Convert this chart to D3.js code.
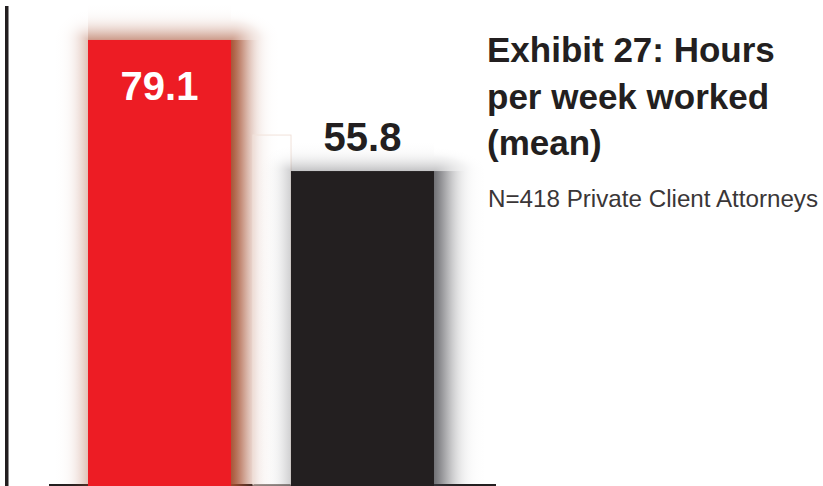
<!DOCTYPE html>
<html>
<head>
<meta charset="utf-8">
<script src="https://cdn.jsdelivr.net/npm/d3@7/dist/d3.min.js"></script>
<style>
  html, body { margin: 0; padding: 0; background: #ffffff; }
  svg { display: block; }
</style>
</head>
<body>
<div id="chart"></div>
<script>
// Mean hours per week worked
const categories = ["A", "B"];
const values = [79.1, 55.8];
const valueLabels = ["79.1", "55.8"];
const titleLines = ["Exhibit 27: Hours", "per week worked", "(mean)"];
const subtitle = "N=418 Private Client Attorneys";

const W = 823, H = 486;
const baseY = 485;

const svg = d3.select("#chart").append("svg")
  .attr("width", W).attr("height", H);
const defs = svg.append("defs");

const x = d3.scaleBand()
  .domain(categories)
  .range([58, 464])
  .paddingInner(60 / 203)
  .paddingOuter(30 / 203);

const y = d3.scaleLinear()
  .domain([0, 86.2])
  .range([baseY, 0]);

const fills = ["#ed1c24", "#231f20"];

// halo look per bar: colour, and for each side [width, peak opacity, edge offset, softness]
const haloStyle = [
  { color: "#a44d2e", right: [58, 0.95, 12, 12], left: [40, 0.34, 2, 11], top: [36, 0.55, 4, 11] },
  { color: "#3a3a40", right: [62, 0.72, 10, 14], left: [36, 0.24, 2, 11], top: [28, 0.3, 2, 10] }
];

// normal CDF (Abramowitz–Stegun erf approximation)
function phi(z) {
  const t = 1 / (1 + 0.3275911 * Math.abs(z) / Math.SQRT2);
  const e = 1 - (((((1.061405429 * t - 1.453152027) * t) + 1.421413741) * t - 0.284496736) * t + 0.254829592) * t * Math.exp(-z * z / 2);
  return z >= 0 ? 0.5 * (1 + e) : 0.5 * (1 - e);
}
// opacity profile along a halo band, t in [0,1] from the bar edge outwards
function profile(side, t) {
  const [wd, a0, e, s] = side;
  const d = t * wd;
  return a0 * (1 - phi((d - e) / s)) / (1 - phi(-e / s));
}

let gid = 0;
function linearGrad(color, side, dir) {
  const id = "hg" + (gid++);
  const g = defs.append("linearGradient").attr("id", id)
    .attr("x1", dir[0]).attr("y1", dir[1]).attr("x2", dir[2]).attr("y2", dir[3]);
  d3.range(0, 1.0001, 0.05).forEach(t => {
    g.append("stop").attr("offset", t).attr("stop-color", color).attr("stop-opacity", profile(side, t));
  });
  return "url(#" + id + ")";
}
function cornerGrad(color, sideA, sideB, cx, cy) {
  const id = "hg" + (gid++);
  const g = defs.append("radialGradient").attr("id", id)
    .attr("cx", cx).attr("cy", cy).attr("r", 1).attr("fx", cx).attr("fy", cy);
  d3.range(0, 1.0001, 0.05).forEach(t => {
    const a = Math.min(profile(sideA, t), profile(sideB, t));
    g.append("stop").attr("offset", t).attr("stop-color", color).attr("stop-opacity", a);
  });
  return "url(#" + id + ")";
}

function drawHalo(g, d) {
  const st = haloStyle[d.i];
  const x0 = x(d.c), x1 = x0 + x.bandwidth(), top = y(d.v);
  const R = st.right, L = st.left, T = st.top;
  // right band
  g.append("rect").attr("x", x1).attr("y", top).attr("width", R[0]).attr("height", H - top)
    .attr("fill", linearGrad(st.color, R, [0, 0, 1, 0]));
  // left band
  g.append("rect").attr("x", x0 - L[0]).attr("y", top).attr("width", L[0]).attr("height", H - top)
    .attr("fill", linearGrad(st.color, L, [1, 0, 0, 0]));
  // top band
  g.append("rect").attr("x", x0).attr("y", top - T[0]).attr("width", x1 - x0).attr("height", T[0])
    .attr("fill", linearGrad(st.color, T, [0, 1, 0, 0]));
  // corners
  g.append("rect").attr("x", x1).attr("y", top - T[0]).attr("width", R[0]).attr("height", T[0])
    .attr("fill", cornerGrad(st.color, R, T, 0, 1));
  g.append("rect").attr("x", x0 - L[0]).attr("y", top - T[0]).attr("width", L[0]).attr("height", T[0])
    .attr("fill", cornerGrad(st.color, L, T, 1, 1));
}

// left rule
svg.append("rect")
  .attr("x", 5).attr("y", 6).attr("width", 3.5).attr("height", H - 6)
  .attr("fill", "#231f20");

// baseline
svg.append("line")
  .attr("x1", 49).attr("x2", 496)
  .attr("y1", baseY).attr("y2", baseY)
  .attr("stroke", "#231f20").attr("stroke-width", 2);

const data = categories.map((c, i) => ({ c, v: values[i], label: valueLabels[i], i }));

function drawBar(g, d) {
  drawHalo(g, d);
  g.append("rect")
    .attr("x", x(d.c))
    .attr("y", y(d.v))
    .attr("width", x.bandwidth())
    .attr("height", y(0) - y(d.v) + 2)
    .attr("fill", fills[d.i]);
}

const bars = svg.append("g");
drawBar(bars, data[0]);

// faint panel between the bars, lifting part of the first bar's halo
const gapX0 = x(categories[0]) + x.bandwidth() + 22;
bars.append("rect")
  .attr("x", gapX0)
  .attr("y", y(values[1]) - 36)
  .attr("width", x(categories[1]) - gapX0)
  .attr("height", baseY - (y(values[1]) - 36))
  .attr("fill", "#ffffff")
  .attr("fill-opacity", 0.12)
  .attr("stroke", "#f1e2da")
  .attr("stroke-width", 1);

drawBar(bars, data[1]);

// value labels: inside the first bar, above the second
svg.append("g").selectAll("text")
  .data(data)
  .join("text")
  .attr("x", d => x(d.c) + x.bandwidth() / 2)
  .attr("y", d => d.i === 0 ? y(d.v) + 60 : y(d.v) - 20)
  .attr("text-anchor", "middle")
  .attr("font-family", "'Liberation Sans', Arial, Helvetica, sans-serif")
  .attr("font-weight", "bold")
  .attr("font-size", 40)
  .attr("fill", d => d.i === 0 ? "#ffffff" : "#231f20")
  .text(d => d.label);

// title block
const title = svg.append("text")
  .attr("font-family", "'Liberation Sans', Arial, Helvetica, sans-serif")
  .attr("font-weight", "bold")
  .attr("font-size", 35)
  .attr("fill", "#231f20");
titleLines.forEach((t, i) => {
  title.append("tspan").attr("x", 487).attr("y", 62 + i * 46.5).text(t);
});

svg.append("text")
  .attr("x", 488).attr("y", 207)
  .attr("font-family", "'Liberation Sans', Arial, Helvetica, sans-serif")
  .attr("font-size", 24.2)
  .attr("fill", "#3a3637")
  .text(subtitle);
</script>
</body>
</html>
